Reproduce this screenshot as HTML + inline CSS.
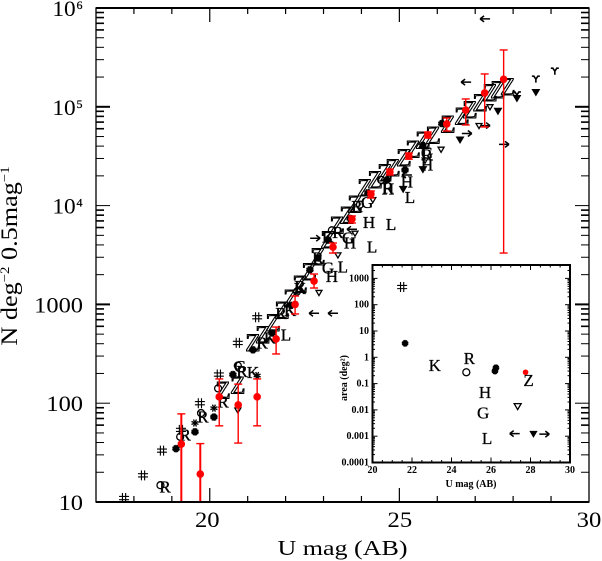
<!DOCTYPE html>
<html lang="en">
<head>
<meta charset="utf-8">
<title>U band number counts</title>
<style>
html,body{margin:0;padding:0;background:#fff;}
svg{display:block;font-family:"Liberation Serif",serif;}
</style>
</head>
<body>
<svg id="chart" xmlns="http://www.w3.org/2000/svg" width="602" height="561" viewBox="0 0 602 561"></svg>
<script>
// ---- main panel data (U mag, log10 N) ----
const hashMag=[17.74,18.24,18.74,19.24,19.74,20.24,20.74,21.25];
const hashLogN=[1.04,1.27,1.52,1.73,2.00,2.29,2.61,2.87];
const rMag=[18.82,19.35,19.82,20.35,20.85,21.38,21.88,22.38,22.85,23.38,23.88,24.70,25.73];
const rLogN=[1.15,1.68,1.86,2.01,2.32,2.61,2.91,3.18,3.47,3.73,3.99,4.18,4.51];
const kMag=[21.14,21.59,22.12,22.38,23.12];
const kLogN=[2.31,2.66,2.94,3.16,3.68];
const gMag=[20.80,23.12,23.65,24.15,25.73];
const gLogN=[2.37,3.37,3.67,4.03,4.53];
const hMag=[23.22,23.70,24.20,24.70,25.20,25.73];
const hLogN=[3.28,3.62,3.83,4.17,4.24,4.41];
const lMag=[22.01,23.51,24.28,24.78,25.28];
const lLogN=[2.69,3.38,3.58,3.81,4.08];
const zMag=[20.35,20.74,21.14,21.40,21.67,21.91,22.14,22.38,22.62,22.85,23.12,23.36,23.62,23.83,24.09,24.36,24.62,24.83,25.12,25.36,25.62,25.89,26.28,26.65,26.86,27.13,27.39,27.60,27.86];
const zLogN=[2.13,2.18,2.61,2.69,2.81,2.94,3.06,3.20,3.33,3.48,3.65,3.80,3.90,4.01,4.18,4.26,4.33,4.38,4.48,4.57,4.66,4.71,4.82,4.90,4.97,5.04,5.14,5.17,5.20];
const circleMag=[18.70,19.22,19.77,20.22,20.74,22.30,23.22,23.96,24.52];
const circleLogN=[1.17,1.66,1.90,2.15,2.38,3.13,3.75,4.01,4.26];
const starMag=[19.11,19.61,20.11,20.61,21.14,21.64,22.14,22.64,22.85,23.12,23.70,24.17,24.67,25.15,25.62,26.12];
const starLogN=[1.54,1.71,1.86,2.29,2.54,2.71,2.99,3.35,3.47,3.65,3.87,4.13,4.26,4.36,4.61,4.83];
const openStarMag=[19.61,20.11,21.25];
const openStarLogN=[1.80,1.95,2.28];
const openTriMag=[20.74,22.88,23.38,23.83,24.30,25.68,26.10,27.10,27.39];
const openTriLogN=[1.93,3.12,3.50,3.72,4.06,4.46,4.57,4.81,5.00];
const forkMag=[28.10,28.60,29.10];
const forkLogN=[5.12,5.28,5.36];
const fillTriMag=[25.10,25.62,26.60,27.60,28.10,28.60];
const fillTriLogN=[4.17,4.37,4.67,4.96,5.09,5.15];
const leftArrowMag=[27.26,26.76,22.75,23.25,23.75,25.20];
const leftArrowLogN=[5.89,5.25,2.91,2.91,3.76,4.31];
const rightArrowMag=[22.78,26.78,27.26,27.76];
const rightArrowLogN=[3.67,4.73,4.81,4.62];
// ---- red averaged counts ----
const redMag=[19.25,19.75,20.25,20.75,21.25,21.75,22.25,22.75,23.25,23.75,24.25,24.75,25.25,25.75,26.25,26.75,27.25,27.75];
const redN=[38.6,19.2,116,96,116,447,1000,1725,3800,7310,13100,21900,31800,51900,67000,92800,138000,190000];
const redUpper=[78,39,176,156,176,590,1216,2030,4180,7850,14060,23400,34000,55600,77000,120000,215000,376000];
const redLower=[5,5,59,39.5,59,315,800,1465,3310,6670,11940,20400,29500,48300,56900,65500,62500,3310];
// ---- tick labels ----
const xTickValues=[20,25,30];
const yTickExponents=[1,2,3,4,5,6];
// ---- inset data (U mag, area deg^2) ----
const insetXTicks=[20,22,24,26,28,30];
const insetYTicks=["0.0001","0.001","0.01","0.1","1","10","100","1000"];
const insetLetters=["K","R","H","G","L","Z"];
const insetLetterMag=[23.15,24.9,25.7,25.6,25.8,27.9];
const insetLetterArea=[0.5,0.93,0.048,0.0079,0.00085,0.14];
const insetHashMag=[21.5];
const insetHashArea=[470];
const insetStarMag=[21.65,26.2,26.25];
const insetStarArea=[3.4,0.3,0.4];
const insetCircleMag=[24.75];
const insetCircleArea=[0.27];
const insetRedMag=[27.75];
const insetRedArea=[0.27];
const insetOpenTriMag=[27.35];
const insetOpenTriArea=[0.014];
const insetFillTriMag=[28.15];
const insetFillTriArea=[0.00125];
const insetLeftMag=[27.2];
const insetLeftArea=[0.00125];
const insetRightMag=[28.7];
const insetRightArea=[0.0012];

const svg=document.getElementById('chart');
const NS='http://www.w3.org/2000/svg';
const RED='#ff0000';
function add(tag,attrs,name,parent){
  const el=document.createElementNS(NS,tag);
  for(const k in attrs)el.setAttribute(k,attrs[k]);
  
  
  (parent||svg).appendChild(el);
  return el;
}
function label(str,x,y,size,opts,name){
  const o=opts||{};
  const t=add('text',{x:x,y:y,'font-size':size,'text-anchor':o.anchor||'middle',fill:o.fill||'#000'},name,o.parent);
  if(o.weight)t.setAttribute('font-weight',o.weight);
  if(o.transform)t.setAttribute('transform',o.transform);
  if(o.len){t.setAttribute('textLength',o.len);t.setAttribute('lengthAdjust','spacing');}
  if(o.sx){
    t.setAttribute('x',0);
    t.setAttribute('y',0);
    t.setAttribute('transform','translate('+x+' '+y+') scale('+o.sx+' 1)');
  }
  if(o.stroke){
    t.setAttribute('stroke','#000');
    t.setAttribute('stroke-width',o.stroke);
  }
  t.textContent=str;
  return t;
}
// main axis functions
const X=m=>96+(m-17)*37.92;
const Y=l=>502-(l-1)*98.8;
const YN=n=>Y(Math.log10(n));
// inset axis functions
const IX=m=>372.5+(m-20)*19.75;
const IY=a=>462.5-(Math.log10(a)+4)*26.3;

function line(x1,y1,x2,y2,w,name,color){
  return add('line',{x1:x1,y1:y1,x2:x2,y2:y2,stroke:color||'#000','stroke-width':w},name);
}
function hash(x,y,s,name){
  const d=`M${x-s*0.5} ${y-s*0.16}H${x+s*0.5}M${x-s*0.5} ${y+s*0.16}H${x+s*0.5}M${x-s*0.16} ${y-s*0.5}V${y+s*0.5}M${x+s*0.16} ${y-s*0.5}V${y+s*0.5}`;
  add('path',{d:d,stroke:'#000','stroke-width':1.1,fill:'none'},name);
}
function star(x,y,s,name,w){
  let d='';
  for(let i=0;i<4;i++){
    const a=i*Math.PI/4+Math.PI/8;
    const dx=Math.cos(a)*s,dy=Math.sin(a)*s;
    d+=`M${x-dx} ${y-dy}L${x+dx} ${y+dy}`;
  }
  add('path',{d:d,stroke:'#000','stroke-width':w||2,fill:'none'},name);
}
function tri(x,y,s,filled,name){
  add('path',{d:`M${x-s} ${y-s*0.7}H${x+s}L${x} ${y+s}Z`,stroke:'#000','stroke-width':1.3,fill:filled?'#000':'none'},name);
}
function fork(x,y,name){
  add('path',{d:`M${x-4} ${y-3}H${x-2}L${x} ${y}L${x+2} ${y-3}H${x+4}M${x} ${y}V${y+3.5}`,stroke:'#000','stroke-width':1.6,fill:'none'},name);
}
function arrow(x,y,dir,name){
  const d=`M${x-5} ${y}H${x+5}M${x+dir*5} ${y}L${x+dir*1} ${y-3}M${x+dir*5} ${y}L${x+dir*1} ${y+3}`;
  add('path',{d:d,stroke:'#000','stroke-width':1.5,fill:'none'},name);
}
function each(xs,ys,fn){xs.forEach((m,i)=>fn(m,ys[i]));}

// ===== Main panel marks =====
each(zMag,zLogN,(m,l)=>{
  const z=label('Z',X(m),Y(l)+8,25,{stroke:1.1},'z-point');
  z.setAttribute('fill','none');
});
each(hashMag,hashLogN,(m,l)=>hash(X(m),Y(l),10,'hash-point'));
const LETTER={stroke:0.35};
each(rMag,rLogN,(m,l)=>label('R',X(m),Y(l)+5.5,17,LETTER,'r-point'));
each(kMag,kLogN,(m,l)=>label('K',X(m),Y(l)+5.5,17,LETTER,'k-point'));
each(gMag,gLogN,(m,l)=>label('G',X(m),Y(l)+5.5,17,LETTER,'g-point'));
each(hMag,hLogN,(m,l)=>label('H',X(m),Y(l)+5.5,17,LETTER,'h-point'));
each(lMag,lLogN,(m,l)=>label('L',X(m),Y(l)+5.5,17,LETTER,'l-point'));
each(circleMag,circleLogN,(m,l)=>add('circle',{cx:X(m),cy:Y(l),r:3.5,fill:'none',stroke:'#000','stroke-width':1.3},'circle-point'));
each(starMag,starLogN,(m,l)=>star(X(m),Y(l),3.8,'star-point',2.2));
each(openStarMag,openStarLogN,(m,l)=>star(X(m),Y(l),3.8,'open-star-point',1.3));
each(openTriMag,openTriLogN,(m,l)=>tri(X(m),Y(l),3,false,'open-triangle-point'));
each(forkMag,forkLogN,(m,l)=>fork(X(m),Y(l),'fork-point'));
each(fillTriMag,fillTriLogN,(m,l)=>tri(X(m),Y(l),3.3,true,'filled-triangle-point'));
each(leftArrowMag,leftArrowLogN,(m,l)=>arrow(X(m),Y(l),-1,'left-arrow-point'));
each(rightArrowMag,rightArrowLogN,(m,l)=>arrow(X(m),Y(l),1,'right-arrow-point'));

// Red error bars and points
redMag.forEach((m,i)=>{
  const x=X(m);
  const top=YN(redUpper[i]);
  const bot=Math.min(YN(redLower[i]),502);
  const w=(i<2)?2:1.4;
  line(x,top,x,bot,w,'red-error-bar',RED);
  line(x-4,top,x+4,top,1.4,'red-error-cap',RED);
  if(bot<502)line(x-4,bot,x+4,bot,1.4,'red-error-cap',RED);
  add('circle',{cx:x,cy:YN(redN[i]),r:3.8,fill:RED},'red-point');
});

// ===== Main frame =====
add('rect',{x:96,y:8,width:493,height:494,fill:'none',stroke:'#000','stroke-width':1.3},'plot-frame');
line(96,8,589,8,2,'top-axis');
line(96,502,589,502,2,'bottom-axis');
for(let m=18;m<30;m++){
  const major=(m%5===0);
  const h=major?14:6;
  line(X(m),502,X(m),502-h,1.2,'x-tick');
  line(X(m),8,X(m),8+h,1.2,'x-tick-top');
}
for(let d=1;d<=5;d++){
  for(let k=1;k<=9;k++){
    const l=d+Math.log10(k);
    if(l<=1)continue;
    const len=(k===1)?14:8;
    const w=(k===1&&d%2===1)?2:((k>=6)?1.6:1);
    line(96,Y(l),96+len,Y(l),w,'y-tick');
    line(589,Y(l),589-len,Y(l),w,'y-tick-right');
  }
}
const xLabelShift=[-2.5,0.5,0];
xTickValues.forEach((v,i)=>label(String(v),X(v)+xLabelShift[i],527,22,{sx:1.12},'x-tick-label'));
yTickExponents.forEach(e=>{
  const base=Y(e);
  if(e>=4){
    label('10',64,base+8,22,{sx:1.06},'y-tick-label');
    label(String(e),79.5,base+1,12,{stroke:0.25},'y-tick-exponent');
  }else{
    label(e===1?'10':(e===2?'100':'1000'),83,base+8,22,{anchor:'end',sx:1.11},'y-tick-label');
  }
});
label('U mag (AB)',342.5,555,21,{sx:1.24},'x-axis-title');
const yt=add('text',{x:0,y:0,'font-size':23,'text-anchor':'middle',transform:'translate(17,256) rotate(-90) scale(1.14,1)'},'y-axis-title');
yt.textContent='N deg';
[['\u22122',-8,13],[' 0.5mag',8,23],['\u22121',-8,13]].forEach(p=>{
  const s=document.createElementNS(NS,'tspan');
  s.setAttribute('dy',p[1]);
  s.setAttribute('font-size',p[2]);
  s.textContent=p[0];
  yt.appendChild(s);
});

// ===== Inset =====
const bold={weight:'bold'};
add('rect',{x:372.5,y:265,width:197.5,height:197.5,fill:'#fff',stroke:'#000','stroke-width':2},'inset-frame');
for(let m=20.5;m<30;m+=0.5){
  const h=(m%2===0)?5:2.5;
  line(IX(m),462.5,IX(m),462.5-h,1,'inset-x-tick');
  line(IX(m),265,IX(m),265+h,1,'inset-x-tick-top');
}
for(let d=-4;d<=3;d++){
  for(let k=1;k<=9;k++){
    const a=k*Math.pow(10,d);
    const y=IY(a);
    if(y<266||y>462)continue;
    const len=(k===1)?5:2.5;
    line(372.5,y,372.5+len,y,1,'inset-y-tick');
    line(570,y,570-len,y,1,'inset-y-tick-right');
  }
}
insetXTicks.forEach(v=>label(String(v),IX(v),473,10,bold,'inset-x-tick-label'));
insetYTicks.forEach(v=>label(v,369,IY(parseFloat(v))+3,10,{weight:'bold',anchor:'end'},'inset-y-tick-label'));
label('U mag (AB)',471,487,10,{weight:'bold',len:51},'inset-x-axis-title');
label('area (deg\u00b2)',347,378,10,{weight:'bold',transform:'rotate(-90 347 378)'},'inset-y-axis-title');
insetLetters.forEach((s,i)=>label(s,IX(insetLetterMag[i]),IY(insetLetterArea[i])+6,17,{stroke:0.25},'inset-letter-'+s.toLowerCase()));
each(insetHashMag,insetHashArea,(m,a)=>hash(IX(m),IY(a),10,'inset-hash'));
each(insetStarMag,insetStarArea,(m,a)=>star(IX(m),IY(a),3.4,'inset-star',2));
each(insetCircleMag,insetCircleArea,(m,a)=>add('circle',{cx:IX(m),cy:IY(a),r:3.5,fill:'none',stroke:'#000','stroke-width':1.3},'inset-circle'));
each(insetRedMag,insetRedArea,(m,a)=>add('circle',{cx:IX(m),cy:IY(a),r:2.8,fill:RED},'inset-red-point'));
each(insetOpenTriMag,insetOpenTriArea,(m,a)=>tri(IX(m),IY(a),3.5,false,'inset-open-triangle'));
each(insetFillTriMag,insetFillTriArea,(m,a)=>tri(IX(m),IY(a),3,true,'inset-filled-triangle'));
each(insetLeftMag,insetLeftArea,(m,a)=>arrow(IX(m),IY(a),-1,'inset-left-arrow'));
each(insetRightMag,insetRightArea,(m,a)=>arrow(IX(m),IY(a),1,'inset-right-arrow'));
</script>
</body>
</html>
